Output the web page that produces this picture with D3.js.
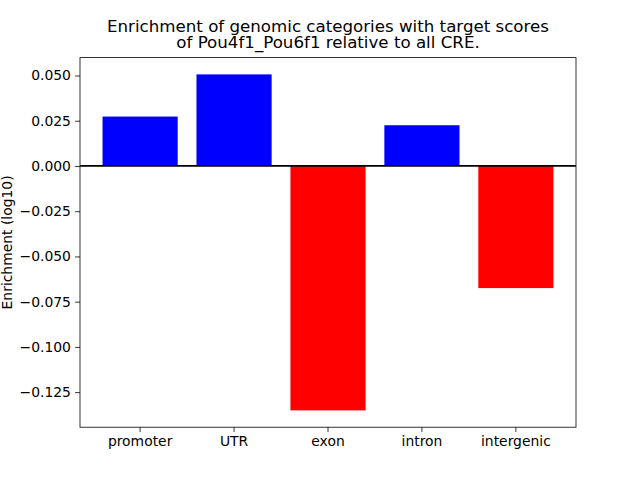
<!DOCTYPE html>
<html>
<head>
<meta charset="utf-8">
<script src="https://cdn.jsdelivr.net/npm/d3@7"></script>
<style>
  html, body { margin: 0; padding: 0; background: #fff; }
  svg { display: block; font-family: "DejaVu Sans", sans-serif; }
</style>
</head>
<body>
<svg id="chart" width="640" height="480"></svg>
<script>
const categories = ["promoter", "UTR", "exon", "intron", "intergenic"];
const values = [0.0273, 0.0506, -0.1351, 0.0225, -0.0675];
const yTicks = [0.050, 0.025, 0.000, -0.025, -0.050, -0.075, -0.100, -0.125];
const titleLines = ["Enrichment of genomic categories with target scores", "of Pou4f1_Pou6f1 relative to all CRE."];
const yLabel = "Enrichment (log10)";

const svg = d3.select("#chart");
const axL = 80, axR = 576, axT = 57.6, axB = 427.2;

const x = d3.scaleBand().domain(categories).range([axL, axR]).paddingInner(0.2).paddingOuter(0.24);
const vmin = d3.min(values), vmax = d3.max(values);
const pad = (vmax - vmin) * 0.05;
const y = d3.scaleLinear().domain([vmin - pad, vmax + pad]).range([axB, axT]);

svg.append("rect").attr("x", 0).attr("y", 0).attr("width", 640).attr("height", 480).attr("fill", "#fff");

// bars
svg.append("g").selectAll("rect").data(values).join("rect")
  .attr("x", (d, i) => x(categories[i]))
  .attr("width", x.bandwidth())
  .attr("y", d => y(Math.max(0, d)))
  .attr("height", d => Math.abs(y(d) - y(0)))
  .attr("fill", d => d >= 0 ? "#0000ff" : "#ff0000");

// zero line
svg.append("line")
  .attr("x1", axL).attr("x2", axR)
  .attr("y1", y(0)).attr("y2", y(0))
  .attr("stroke", "#000").attr("stroke-width", 1.8);

// axes
const fmt = d3.format(".3f");
const yAxis = d3.axisLeft(y).tickValues(yTicks).tickFormat(fmt).tickSize(4.86).tickPadding(4.2);
const gy = svg.append("g").attr("transform", `translate(${axL},0)`).call(yAxis);
gy.select(".domain").remove();
gy.selectAll(".tick line").attr("stroke", "#000").attr("stroke-width", 0.8);
gy.selectAll(".tick text").attr("font-size", "13.9px").attr("fill", "#000").attr("font-family", "DejaVu Sans");

const xAxis = d3.axisBottom(x).tickSize(4.86).tickPadding(4.2);
const gx = svg.append("g").attr("transform", `translate(0,${axB})`).call(xAxis);
gx.select(".domain").remove();
gx.selectAll(".tick line").attr("stroke", "#000").attr("stroke-width", 0.8);
gx.selectAll(".tick text").attr("font-size", "13.9px").attr("fill", "#000").attr("font-family", "DejaVu Sans");

// frame
svg.append("rect")
  .attr("x", axL).attr("y", axT)
  .attr("width", axR - axL).attr("height", axB - axT)
  .attr("fill", "none").attr("stroke", "#000").attr("stroke-width", 0.8);

// title (one text element, two lines)
const title = svg.append("text")
  .attr("text-anchor", "middle").attr("font-size", "16.67px").attr("fill", "#000");
title.selectAll("tspan").data(titleLines).join("tspan")
  .attr("x", (axL + axR) / 2)
  .attr("y", (d, i) => 32 + i * 16)
  .text(d => d);

// y label
svg.append("text")
  .attr("transform", `translate(11.5,${(axT + axB) / 2}) rotate(-90)`)
  .attr("text-anchor", "middle").attr("font-size", "13.9px").attr("fill", "#000")
  .text(yLabel);
</script>
</body>
</html>
